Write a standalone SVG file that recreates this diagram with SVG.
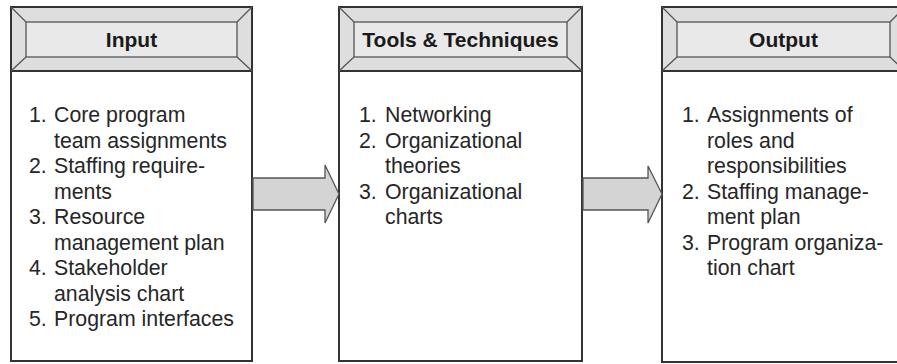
<svg xmlns="http://www.w3.org/2000/svg" width="897" height="364" viewBox="0 0 897 364">
<style>
.body{fill:#ffffff;stroke:#333;stroke-width:2}
.hdr{fill:#dedede;stroke:#333;stroke-width:2}
.inner{fill:#e9e9e9;stroke:#555;stroke-width:1.3}
.bev{stroke:#555;stroke-width:1.3;fill:none}
.title{font-family:"Liberation Sans",Arial,sans-serif;font-weight:bold;font-size:21px;fill:#1a1a1a;text-anchor:middle}
.item{font-family:"Liberation Sans",Arial,sans-serif;font-size:21.3px;fill:#262626}
.arrow{fill:#d4d4d4;stroke:#555;stroke-width:1.3;stroke-linejoin:miter}
</style>
<rect width="897" height="364" fill="#ffffff"/>
<g id="input">
<rect class="body" x="11" y="7" width="241" height="354"/>
<rect class="hdr" x="11" y="7" width="241" height="64"/>
<rect class="inner" x="26" y="22" width="211" height="35"/>
<path class="bev" d="M11 7L26 22M252 7L237 22M11 71L26 57M252 71L237 57"/>
<text class="title" x="131.5" y="47">Input</text>
<text class="item"><tspan x="29" y="122">1.</tspan><tspan x="54" y="122">Core program</tspan><tspan x="54" y="147.5">team assignments</tspan><tspan x="29" y="173">2.</tspan><tspan x="54" y="173">Staffing require-</tspan><tspan x="54" y="198.5">ments</tspan><tspan x="29" y="224">3.</tspan><tspan x="54" y="224">Resource</tspan><tspan x="54" y="249.5">management plan</tspan><tspan x="29" y="275">4.</tspan><tspan x="54" y="275">Stakeholder</tspan><tspan x="54" y="300.5">analysis chart</tspan><tspan x="29" y="326">5.</tspan><tspan x="54" y="326">Program interfaces</tspan></text>
</g>
<g id="tools">
<rect class="body" x="339" y="7" width="243" height="354"/>
<rect class="hdr" x="339" y="7" width="243" height="64"/>
<rect class="inner" x="354" y="22" width="213" height="35"/>
<path class="bev" d="M339 7L354 22M582 7L567 22M339 71L354 57M582 71L567 57"/>
<text class="title" x="460.5" y="47">Tools &amp; Techniques</text>
<text class="item"><tspan x="359" y="122">1.</tspan><tspan x="385" y="122">Networking</tspan><tspan x="359" y="147.5">2.</tspan><tspan x="385" y="147.5">Organizational</tspan><tspan x="385" y="173">theories</tspan><tspan x="359" y="198.5">3.</tspan><tspan x="385" y="198.5">Organizational</tspan><tspan x="385" y="224">charts</tspan></text>
</g>
<g id="output">
<rect class="body" x="662" y="7" width="243" height="355"/>
<rect class="hdr" x="662" y="7" width="243" height="64"/>
<rect class="inner" x="677" y="22" width="213" height="35"/>
<path class="bev" d="M662 7L677 22M905 7L890 22M662 71L677 57M905 71L890 57"/>
<text class="title" x="783.5" y="47">Output</text>
<text class="item"><tspan x="682" y="122">1.</tspan><tspan x="707" y="122">Assignments of</tspan><tspan x="707" y="147.5">roles and</tspan><tspan x="707" y="173">responsibilities</tspan><tspan x="682" y="198.5">2.</tspan><tspan x="707" y="198.5">Staffing manage-</tspan><tspan x="707" y="224">ment plan</tspan><tspan x="682" y="249.5">3.</tspan><tspan x="707" y="249.5">Program organiza-</tspan><tspan x="707" y="275">tion chart</tspan></text>
</g>
<g id="connectors">
<path class="arrow" d="M253 178H325V165L339 194L325 223V210H253Z"/>
<path class="arrow" d="M583 178H648V166L662 194L648 223V210H583Z"/>
</g>
</svg>
